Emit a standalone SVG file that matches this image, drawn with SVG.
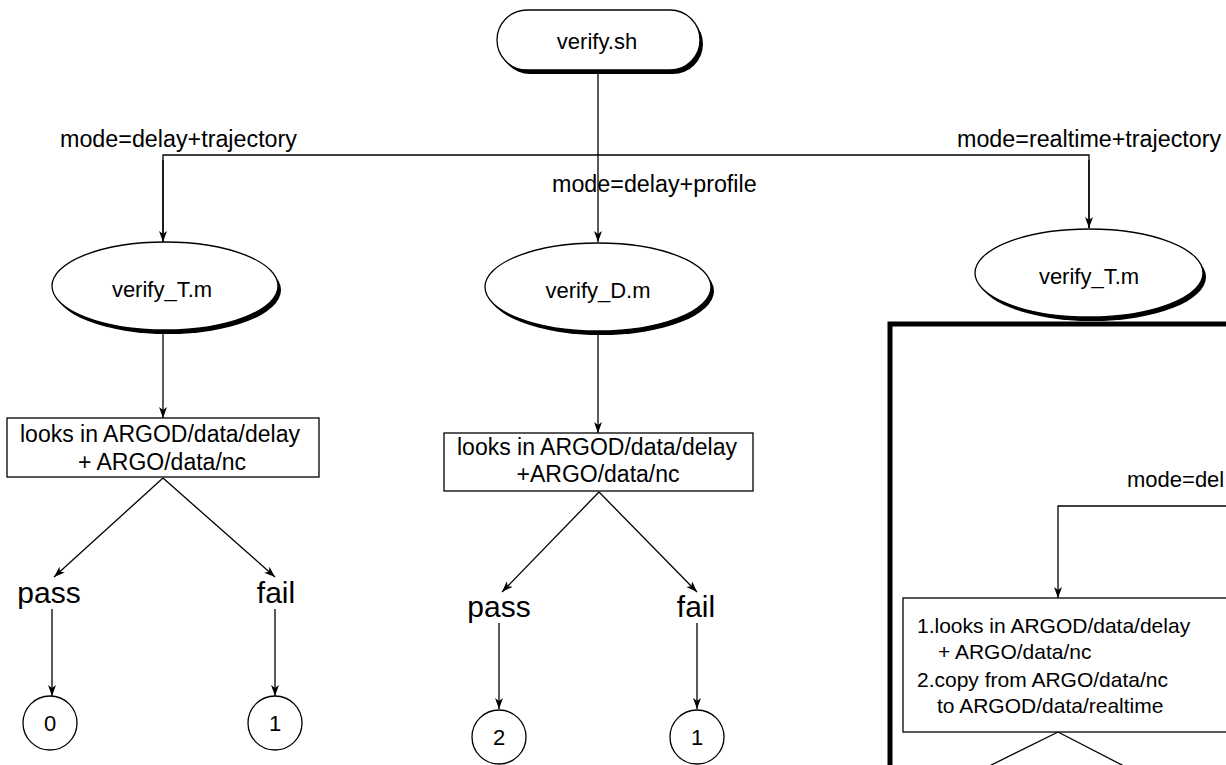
<svg xmlns="http://www.w3.org/2000/svg" width="1226" height="765" viewBox="0 0 1226 765">
<style>
text{font-family:"Liberation Sans",Arial,sans-serif;fill:#000}
.t{font-size:22px}
.lb{font-size:23.3px}
.bx{font-size:23px}
.big{font-size:30px}
.sm{font-size:21px}
.shape{fill:#fff;stroke:#000;stroke-width:1.3}
.shadow{fill:#000}
.ln{fill:none;stroke:#000;stroke-width:1.3}
.ar{fill:none;stroke:#000;stroke-width:1.3;marker-end:url(#ah)}
</style>
<defs>
<marker id="ah" markerUnits="userSpaceOnUse" markerWidth="12" markerHeight="10" refX="11" refY="4" orient="auto">
<path d="M0,0 L11,4 L0,8 L3,4 z" fill="#000"/>
</marker>
</defs>
<rect width="1226" height="765" fill="#fff"/>

<g id="connectors">
<line class="ar" x1="598" y1="73" x2="598" y2="242"/>
<polyline class="ln" points="163,242 163,155 1089,155 1089,228"/>
<line class="ar" x1="163" y1="160" x2="163" y2="242"/>
<line class="ar" x1="1089" y1="160" x2="1089" y2="228"/>
<line class="ar" x1="163" y1="333" x2="163" y2="418"/>
<line class="ar" x1="598" y1="333" x2="598" y2="433"/>
<line class="ar" x1="163" y1="478" x2="54" y2="577"/>
<line class="ar" x1="163" y1="478" x2="275" y2="577"/>
<line class="ar" x1="52" y1="609" x2="52" y2="696"/>
<line class="ar" x1="275" y1="609" x2="275" y2="696"/>
<line class="ar" x1="599" y1="492" x2="502" y2="592"/>
<line class="ar" x1="599" y1="492" x2="697" y2="592"/>
<line class="ar" x1="499" y1="623" x2="499" y2="709"/>
<line class="ar" x1="697" y1="623" x2="697" y2="709"/>
<polyline class="ar" points="1240,506 1058,506 1058,598"/>
<line class="ln" x1="1058" y1="732" x2="961" y2="780"/>
<line class="ln" x1="1058" y1="732" x2="1151" y2="780"/>
</g>

<g id="labels">
<text class="lb" x="60" y="147">mode=delay+trajectory</text>
<text class="lb" x="552" y="192">mode=delay+profile</text>
<text class="lb" x="957" y="147">mode=realtime+trajectory</text>
<text class="t" x="1127" y="487">mode=del</text>
</g>

<g id="verify_sh">
<rect class="shadow" x="500" y="14" width="203" height="60" rx="30"/>
<rect class="shape" x="497" y="10" width="203" height="60" rx="30"/>
<text class="t" x="597" y="49" text-anchor="middle">verify.sh</text>
</g>

<g id="verify_T_left">
<ellipse class="shadow" cx="168" cy="290" rx="113" ry="44"/>
<ellipse class="shape" cx="165" cy="286" rx="113" ry="44"/>
<text class="t" x="162" y="297" text-anchor="middle">verify_T.m</text>
</g>

<g id="verify_D">
<ellipse class="shadow" cx="601" cy="291" rx="113" ry="44"/>
<ellipse class="shape" cx="598" cy="287" rx="113" ry="44"/>
<text class="t" x="598" y="298" text-anchor="middle">verify_D.m</text>
</g>

<g id="verify_T_right">
<ellipse class="shadow" cx="1092" cy="277" rx="114" ry="44"/>
<ellipse class="shape" cx="1089" cy="273" rx="114" ry="44"/>
<text class="t" x="1089" y="284" text-anchor="middle">verify_T.m</text>
</g>

<g id="box_left">
<rect class="shape" x="7" y="418" width="312" height="59"/>
<text class="bx" x="160" y="442" text-anchor="middle">looks in ARGOD/data/delay</text>
<text class="bx" x="162" y="470" text-anchor="middle">+ ARGO/data/nc</text>
</g>

<g id="box_mid">
<rect class="shape" x="444" y="433" width="309" height="58"/>
<text class="bx" x="597" y="455" text-anchor="middle">looks in ARGOD/data/delay</text>
<text class="bx" x="598" y="482" text-anchor="middle">+ARGO/data/nc</text>
</g>

<g id="pass_left"><text class="big" x="49" y="603" text-anchor="middle">pass</text></g>
<g id="fail_left"><text class="big" x="276" y="603" text-anchor="middle">fail</text></g>
<g id="pass_mid"><text class="big" x="499" y="617" text-anchor="middle">pass</text></g>
<g id="fail_mid"><text class="big" x="696" y="617" text-anchor="middle">fail</text></g>

<g id="out_0">
<circle class="shape" cx="50" cy="723" r="27"/>
<text class="t" x="50" y="731" text-anchor="middle">0</text>
</g>
<g id="out_1a">
<circle class="shape" cx="275" cy="723" r="27"/>
<text class="t" x="275" y="731" text-anchor="middle">1</text>
</g>
<g id="out_2">
<circle class="shape" cx="499" cy="737" r="27"/>
<text class="t" x="499" y="745" text-anchor="middle">2</text>
</g>
<g id="out_1b">
<circle class="shape" cx="697" cy="737" r="27"/>
<text class="t" x="697" y="745" text-anchor="middle">1</text>
</g>

<g id="realtime_frame">
<rect x="890" y="324" width="400" height="500" fill="none" stroke="#000" stroke-width="5"/>
</g>

<g id="box_right">
<rect class="shape" x="903" y="598" width="360" height="134"/>
<text class="sm" x="917" y="633">1.looks in ARGOD/data/delay</text>
<text class="sm" x="938" y="659">+ ARGO/data/nc</text>
<text class="sm" x="917" y="687">2.copy from ARGO/data/nc</text>
<text class="sm" x="937" y="713">to ARGOD/data/realtime</text>
</g>
</svg>
